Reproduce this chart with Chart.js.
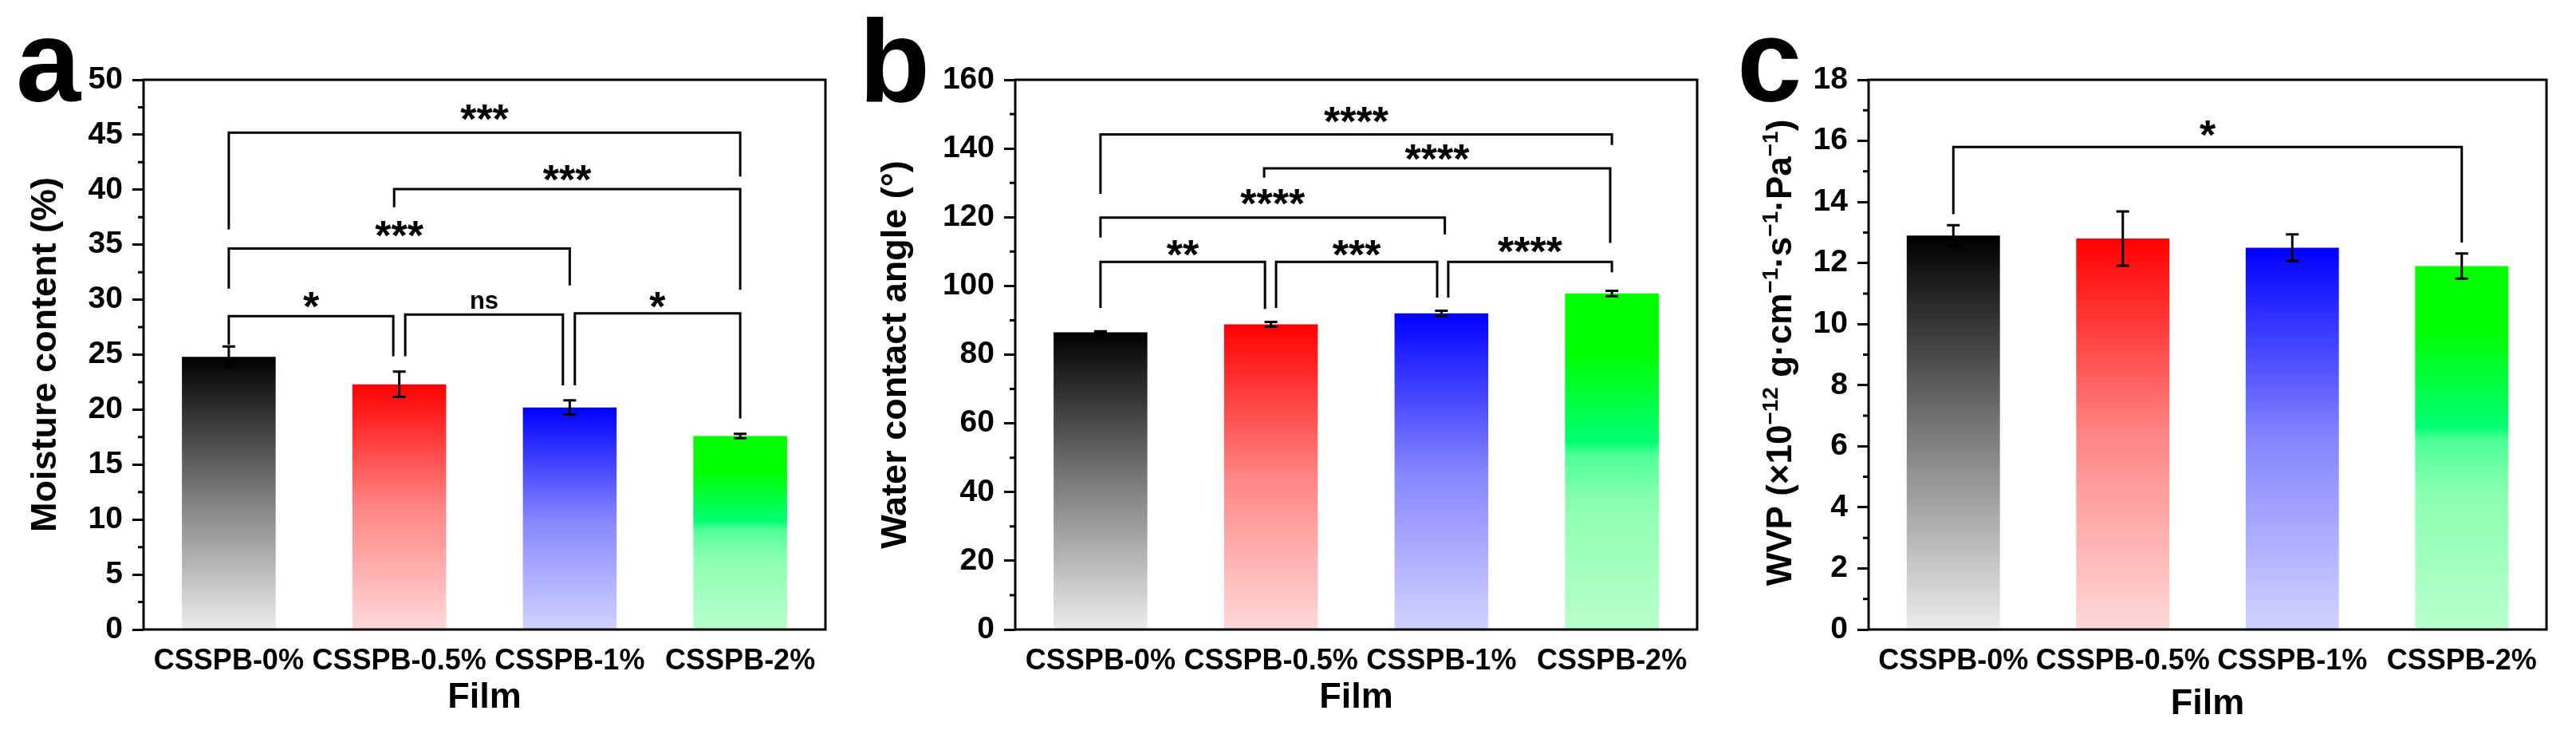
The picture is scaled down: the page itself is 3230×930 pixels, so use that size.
<!DOCTYPE html>
<html>
<head>
<meta charset="utf-8">
<script src="https://cdn.jsdelivr.net/npm/chart.js@4.4.1/dist/chart.umd.min.js"></script>
<style>
  body { margin: 0; background: #fff; width: 3230px; height: 930px; overflow: hidden; position: relative; }
  .panel { position: absolute; top: 0; width: 1077px; height: 930px; }
</style>
</head>
<body>
<div class="panel" style="left:0px"><canvas id="moistureChart" width="1077" height="930"></canvas></div>
<div class="panel" style="left:1077px"><canvas id="angleChart" width="1077" height="930"></canvas></div>
<div class="panel" style="left:2153px"><canvas id="wvpChart" width="1077" height="930"></canvas></div>
<script>
const films = ['CSSPB-0%', 'CSSPB-0.5%', 'CSSPB-1%', 'CSSPB-2%'];

const moisture = [24.8, 22.3, 20.2, 17.6];
const moistureErr = [0.95, 1.15, 0.65, 0.2];
const angle = [86.5, 88.8, 92.0, 97.8];
const angleErr = [0.3, 0.7, 0.8, 0.8];
const wvp = [12.9, 12.8, 12.5, 11.9];
const wvpErr = [0.34, 0.89, 0.44, 0.41];

// significance brackets: from, to (category index), line y, left leg end, right leg end, label, label centre
const moistureSig = [
    [0, 3, 45.2, 36.4, 41.2, '***', 47.0],
    [0.97, 3.0, 40.05, 38.4, 30.9, '***', 41.5],
    [0, 2, 34.65, 31.0, 31.3, '***', 36.45],
    [0, 0.965, 28.5, 25.9, 24.85, '*', 30.0],
    [1.035, 1.96, 28.65, 24.85, 22.2, 'ns', 29.8],
    [2.03, 3.0, 28.75, 22.2, 19.2, '*', 30.0]
];
const angleSig = [
    [0, 3, 144.1, 126.8, 141.0, '****', 149.7],
    [0.96, 2.99, 134.2, 131.5, 112.5, '****', 138.8],
    [0, 2.02, 119.9, 114.1, 115.0, '****', 125.8],
    [0, 0.965, 107, 93.6, 93.3, '**', 111],
    [1.03, 1.975, 107, 93.6, 96.6, '***', 111],
    [2.04, 3.0, 107, 96.6, 104, '****', 112]
];
const wvpSig = [
    [0, 3, 15.8, 13.6, 12.67, '*', 16.4]
];

// top -> bottom colour stops of each bar
const barStops = [
    [[0, '#000000'], [0.5, '#7a7a7a'], [1, '#ececec']],
    [[0, '#ff0000'], [0.5, '#ff8585'], [1, '#ffd8d8']],
    [[0, '#0000ff'], [0.5, '#8585ff'], [1, '#d2d2ff']],
    [[0, '#00ff00'], [0.17, '#00ff00'], [0.44, '#00ff72'], [0.48, '#4dff96'], [0.62, '#8affb0'], [1, '#b8ffcc']]
];

const FONT = '"Liberation Sans", Arial, sans-serif';
Chart.defaults.font.family = FONT;
Chart.defaults.font.weight = 'bold';
Chart.defaults.color = '#000';

function barFill(context) {
    const chart = context.chart;
    if (!chart.chartArea) return null;
    const y = chart.scales.y;
    const v = context.dataset.data[context.dataIndex];
    const g = chart.ctx.createLinearGradient(0, y.getPixelForValue(v), 0, y.getPixelForValue(0));
    barStops[context.dataIndex].forEach(s => g.addColorStop(s[0], s[1]));
    return g;
}

function drawCentred(ctx, text, x, yCentre) {
    const m = ctx.measureText(text);
    const base = yCentre + (m.actualBoundingBoxAscent - m.actualBoundingBoxDescent) / 2;
    ctx.fillText(text, x, base);
}

const panelDecor = {
    id: 'panelDecor',
    afterDatasetsDraw(chart, args, opts) {
        const ctx = chart.ctx;
        const area = chart.chartArea;
        const xs = chart.scales.x, ys = chart.scales.y;
        const meta = chart.getDatasetMeta(0);
        const values = chart.data.datasets[0].data;
        ctx.save();
        ctx.strokeStyle = '#000';
        ctx.fillStyle = '#000';
        ctx.lineWidth = 3;

        // error bars
        opts.errors.forEach((e, i) => {
            const cx = meta.data[i].x;
            const t = ys.getPixelForValue(values[i] + e);
            const b = ys.getPixelForValue(values[i] - e);
            ctx.beginPath();
            ctx.moveTo(cx, t); ctx.lineTo(cx, b);
            ctx.moveTo(cx - 8, t); ctx.lineTo(cx + 8, t);
            ctx.moveTo(cx - 8, b); ctx.lineTo(cx + 8, b);
            ctx.stroke();
        });

        // brackets
        ctx.textAlign = 'center';
        opts.brackets.forEach(([from, to, lineY, leftEnd, rightEnd, label, labelY]) => {
            const x1 = xs.getPixelForValue(from), x2 = xs.getPixelForValue(to);
            const yl = ys.getPixelForValue(lineY);
            ctx.beginPath();
            ctx.moveTo(x1, ys.getPixelForValue(leftEnd));
            ctx.lineTo(x1, yl);
            ctx.lineTo(x2, yl);
            ctx.lineTo(x2, ys.getPixelForValue(rightEnd));
            ctx.stroke();
            ctx.font = label === 'ns' ? 'bold 31px ' + FONT : 'bold 52px ' + FONT;
            drawCentred(ctx, label, (x1 + x2) / 2, ys.getPixelForValue(labelY));
        });

        // frame
        ctx.strokeRect(area.left, area.top, area.right - area.left, area.bottom - area.top);

        // minor ticks
        const step = ys.options.ticks.stepSize;
        ctx.beginPath();
        for (let v = ys.min + step / 2; v < ys.max; v += step) {
            const py = ys.getPixelForValue(v);
            ctx.moveTo(area.left - 7, py);
            ctx.lineTo(area.left, py);
        }
        ctx.stroke();

        // panel letter
        ctx.textAlign = 'left';
        ctx.textBaseline = 'alphabetic';
        ctx.font = 'bold 146px ' + FONT;
        ctx.fillText(opts.letter, opts.letterX, 127);

        // rich y title (superscripts)
        if (opts.richTitle) {
            ctx.translate(opts.richTitle.x, opts.richTitle.y);
            ctx.rotate(-Math.PI / 2);
            const mainFont = 'bold 44px ' + FONT, supFont = 'bold 28px ' + FONT;
            let total = 0;
            opts.richTitle.parts.forEach(([txt, sup]) => {
                ctx.font = sup ? supFont : mainFont;
                total += ctx.measureText(txt).width;
            });
            let px = -total / 2;
            opts.richTitle.parts.forEach(([txt, sup]) => {
                ctx.font = sup ? supFont : mainFont;
                ctx.fillText(txt, px, sup ? -17 : 0);
                px += ctx.measureText(txt).width;
            });
        }
        ctx.restore();
    }
};

function makeChart(id, values, errors, brackets, yMax, step, yTitle, layout) {
    return new Chart(document.getElementById(id), {
        type: 'bar',
        data: {
            labels: films,
            datasets: [{
                data: values,
                backgroundColor: barFill,
                borderWidth: 0,
                barPercentage: 0.55,
                categoryPercentage: 1
            }]
        },
        options: {
            responsive: false,
            animation: false,
            devicePixelRatio: 1,
            layout: { padding: { top: 100, right: layout.right, bottom: 0, left: 0 } },
            plugins: {
                legend: { display: false },
                tooltip: { enabled: false },
                panelDecor: {
                    errors: errors,
                    brackets: brackets,
                    letter: layout.letter,
                    letterX: layout.letterX,
                    richTitle: layout.richTitle
                }
            },
            scales: {
                x: {
                    grid: { display: false },
                    border: { display: false },
                    ticks: { font: { size: 36, weight: 'bold' }, padding: 10, maxRotation: 0, autoSkip: false },
                    title: { display: true, text: 'Film', font: { size: 45, weight: 'bold' }, padding: { top: 0, bottom: layout.filmPad } },
                    afterFit: s => { s.height = 141; }
                },
                y: {
                    min: 0,
                    max: yMax,
                    grid: { drawOnChartArea: false, tickLength: 14, tickWidth: 3, tickColor: '#000' },
                    border: { display: false },
                    ticks: { stepSize: step, font: { size: 39, weight: 'bold' }, padding: 12 },
                    title: { display: !!yTitle, text: yTitle, font: { size: 45, weight: 'bold' }, padding: { top: layout.titlePad, bottom: 0 } },
                    afterFit: s => { s.width = layout.left; }
                }
            }
        },
        plugins: [panelDecor]
    });
}

makeChart('moistureChart', moisture, moistureErr, moistureSig, 50, 5, 'Moisture content (%)',
    { left: 180, right: 42, titlePad: 31, filmPad: 28, letter: 'a', letterX: 20 });
makeChart('angleChart', angle, angleErr, angleSig, 160, 20, 'Water contact angle (°)',
    { left: 196, right: 26, titlePad: 20, filmPad: 28, letter: 'b', letterX: 0 });
makeChart('wvpChart', wvp, wvpErr, wvpSig, 18, 2, '',
    { left: 190, right: 37, titlePad: 0, filmPad: 20, letter: 'c', letterX: 25,
      richTitle: { x: 93, y: 442, parts: [['WVP (×10', false], ['−12', true], [' g·cm', false], ['−1', true], ['·s', false], ['−1', true], ['·Pa', false], ['−1', true], [')', false]] } });
</script>
</body>
</html>
